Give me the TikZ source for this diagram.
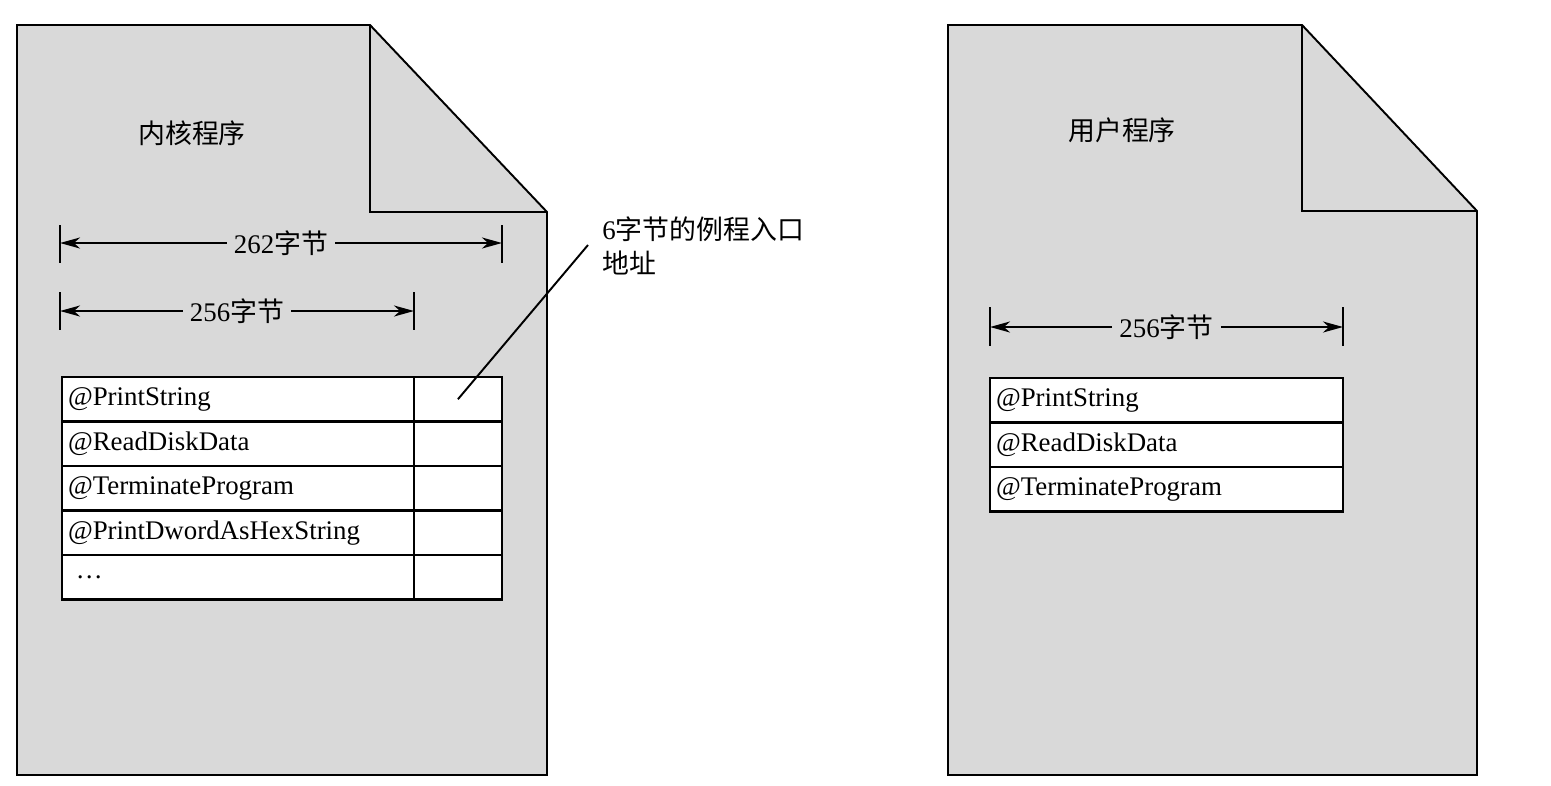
\documentclass[tikz,border=0pt]{standalone}
\usepackage{fontspec}
\setmainfont{Liberation Serif}
\newfontfamily\cjk{Noto Sans CJK SC}
\usetikzlibrary{positioning,arrows.meta}
\definecolor{pagegray}{RGB}{217,217,217}

\begin{document}
\begin{tikzpicture}[x=0.02cm,y=-0.02cm,font=\fontsize{15.3}{19.8}\selectfont,
    page/.style={fill=pagegray,draw=black,line width=1.1pt,line join=miter},
    cell/.style={draw=black,fill=white,line width=1.2pt,minimum height=0.89cm,
        inner ysep=0pt,outer sep=0pt},
    namecell/.style={cell,text width=6.80cm,inner xsep=0.12cm,align=left},
    unamecell/.style={cell,text width=6.82cm,inner xsep=0.12cm,align=left},
    addrcell/.style={cell,minimum width=1.76cm},
    tick/.style={line width=1.2pt},
    dimarrow/.style={line width=1.2pt,-{Stealth[length=0.4cm,width=0.22cm,inset=0.12cm]}},
    dimlabel/.style={inner xsep=0.14cm,inner ysep=0pt}]
\useasboundingbox (0,0) rectangle (1551,785);
%The two pages, each with a folded top right corner
\draw[page] (17,25) -- (370,25) -- (547,212) -- (547,775) -- (17,775) -- cycle;
\draw[page,fill=none] (370,25) -- (370,212) -- (547,212);
\draw[page] (948,25) -- (1302,25) -- (1477,211) -- (1477,775) -- (948,775) -- cycle;
\draw[page,fill=none] (1302,25) -- (1302,211) -- (1477,211);

\node (kname) at (192,133) {\cjk 内核程序};
\node (uname) at (1122,130) {\cjk 用户程序};

%Kernel table: routine names on the left, entry addresses on the right
\node[namecell,anchor=north west] (k1) at (62,377) {@PrintString};
\node[namecell,below=0pt of k1] (k2) {@ReadDiskData};
\node[namecell,below=0pt of k2] (k3) {@TerminateProgram};
\node[namecell,below=0pt of k3] (k4) {@PrintDwordAsHexString};
\node[namecell,below=0pt of k4] (k5) {\hspace{0.16cm}\ldots};
\node[addrcell,right=0pt of k1] (a1) {};
\node[addrcell,right=0pt of k2] (a2) {};
\node[addrcell,right=0pt of k3] (a3) {};
\node[addrcell,right=0pt of k4] (a4) {};
\node[addrcell,right=0pt of k5] (a5) {};

%User table
\node[unamecell,anchor=north west] (u1) at (990,378) {@PrintString};
\node[unamecell,below=0pt of u1] (u2) {@ReadDiskData};
\node[unamecell,below=0pt of u2] (u3) {@TerminateProgram};

%Width markers
\draw[tick] (60,225) -- (60,263);
\draw[tick] (502,225) -- (502,263);
\coordinate (w262l) at (60,243);
\coordinate (w262r) at (502,243);
\node[dimlabel] (w262) at (281,243) {262{\cjk 字节}};
\draw[dimarrow] (w262.west) -- (w262l);
\draw[dimarrow] (w262.east) -- (w262r);

\draw[tick] (60,292) -- (60,330);
\draw[tick] (414,292) -- (414,330);
\coordinate (w256l) at (60,311);
\coordinate (w256r) at (414,311);
\node[dimlabel] (w256) at (237,311) {256{\cjk 字节}};
\draw[dimarrow] (w256.west) -- (w256l);
\draw[dimarrow] (w256.east) -- (w256r);

\draw[tick] (990,307) -- (990,346);
\draw[tick] (1343,307) -- (1343,346);
\coordinate (v256l) at (990,327);
\coordinate (v256r) at (1343,327);
\node[dimlabel] (v256) at (1166.5,327) {256{\cjk 字节}};
\draw[dimarrow] (v256.west) -- (v256l);
\draw[dimarrow] (v256.east) -- (v256r);

%Callout for the entry address
\node[anchor=north west,align=left,inner sep=0pt] (note) at (602,216)
    {6{\cjk 字节的例程入口}\\{\cjk 地址}};
\coordinate (notefoot) at (588,245);
\draw[line width=1.1pt] (a1.center) -- (notefoot);
\end{tikzpicture}
\end{document}
